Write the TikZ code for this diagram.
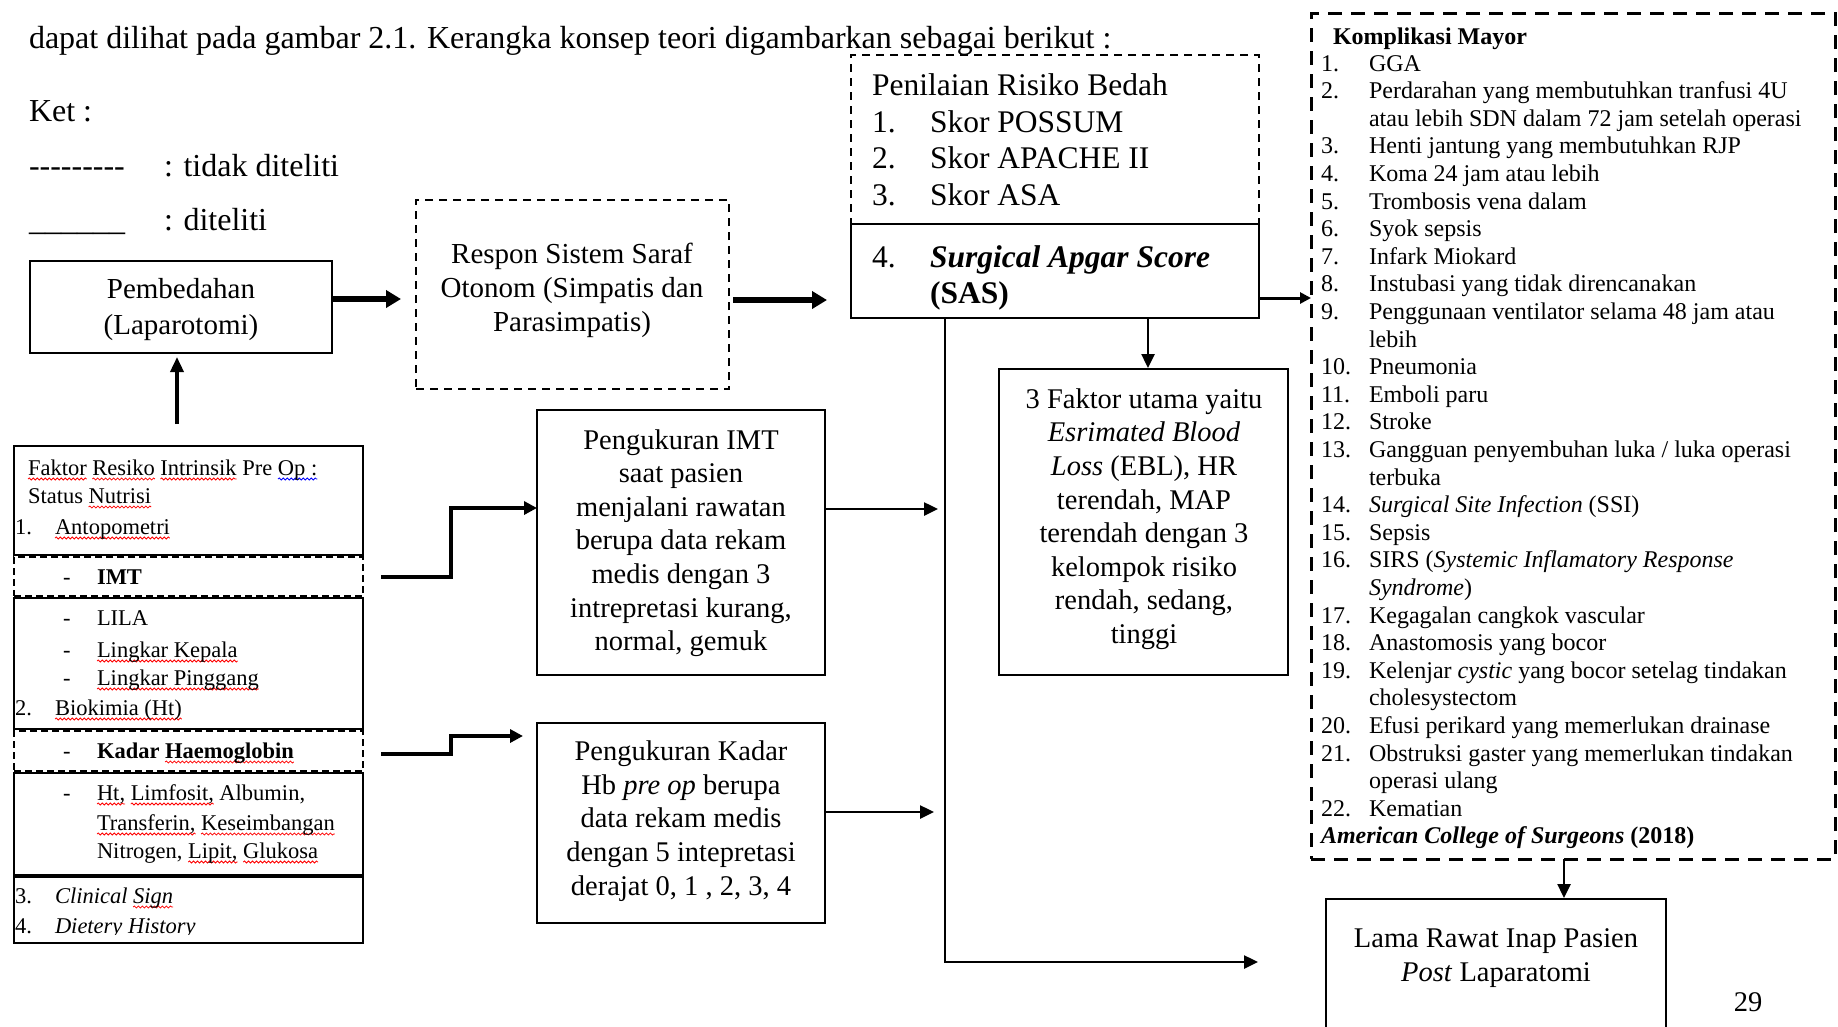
\documentclass[tikz,border=0pt]{standalone}
\usepackage{fontspec}
\setmainfont{Liberation Serif}
\usetikzlibrary{arrows.meta,decorations.pathmorphing}
\newlength\sqlen
\newcommand\sq[2][red]{\settowidth\sqlen{#2}\tikz[overlay,baseline=0pt,x=1pt,y=1pt]\draw[#1,line width=0.8pt,decorate,decoration={snake,amplitude=1pt,segment length=4pt}] (0,-4) -- (\sqlen,-4);#2}
\newcommand\hy{-\kern0pt}
\newcommand\fhead{\fontsize{32}{38}\selectfont}
\newcommand\fpemb{\fontsize{29}{36}\selectfont}
\newcommand\fresp{\fontsize{29}{34}\selectfont}
\newcommand\fmid{\fontsize{28.5}{33.6}\selectfont}
\newcommand\fpen{\fontsize{31.5}{36.5}\selectfont}
\newcommand\fkom{\fontsize{24}{27.6}\selectfont}
\newcommand\fleft{\fontsize{22.5}{30}\selectfont}
\begin{document}
\begin{tikzpicture}[x=1pt,y=-1pt,line join=miter,
  box/.style={draw, line width=2pt, inner sep=0pt, outer sep=0pt, anchor=north west},
  dbox/.style={box, dash pattern=on 8pt off 6pt},
  kbox/.style={box, line width=3pt, dash pattern=on 14pt off 9pt},
  rowdash/.style={box, dash pattern=on 7pt off 4pt},
  txt/.style={inner sep=0pt, outer sep=0pt, anchor=base west},
  ctxt/.style={inner sep=0pt, outer sep=0pt, align=center},
  thickarr/.style={line width=6pt, -{Triangle[length=15pt,width=17pt]}},
  uparr/.style={line width=3.5pt, -{Triangle[length=15pt,width=13pt]}},
  stepconn/.style={line width=4pt, -{Triangle[length=13pt,width=13pt]}},
  thinarr/.style={line width=2.5pt, -{Triangle[length=14pt,width=13pt]}},
  medarr/.style={line width=3pt, -{Triangle[length=11pt,width=11pt]}}]
\useasboundingbox (0,0) rectangle (1838,1026);
\clip (0,0) rectangle (1838,1026);

% header and legend
\node[txt, font=\fhead] (head) at (29,48) {dapat dilihat pada gambar 2.1. Kerangka konsep teori digambarkan sebagai berikut :};
\node[txt, font=\fhead] (ket) at (29,121) {Ket :};
\node[txt, font=\fhead] (legd) at (29,176) {\hy\hy\hy\hy\hy\hy\hy\hy\hy};
\node[txt, font=\fhead] (legdt) at (164,176) {: tidak diteliti};
\node[txt, font=\fhead] (legs) at (29,230) {\_\_\_\_\_\_};
\node[txt, font=\fhead] (legst) at (164,230) {: diteliti};

% boxes
\node[box, minimum width=302pt, minimum height=92pt] (pemb) at (30,261) {};
\node[dbox, minimum width=313pt, minimum height=189pt] (respon) at (416,200) {};
\node[dbox, minimum width=408pt, minimum height=169pt] (penilaian) at (851,55) {};
\node[box, minimum width=408pt, minimum height=94pt] (sas) at (851,224) {};
\node[box, minimum width=288pt, minimum height=265pt] (imtbox) at (537,410) {};
\node[box, minimum width=288pt, minimum height=200pt] (hbbox) at (537,723) {};
\node[box, minimum width=289pt, minimum height=306pt] (faktor) at (999,369) {};
\node[kbox, minimum width=524pt, minimum height=846pt] (kompl) at (1311,13) {};
\node[box, minimum width=340pt, minimum height=160pt] (lama) at (1326,899) {};

% left box rows
\node[box, minimum width=349pt, minimum height=109pt] (lb1) at (14,446) {};
\node[rowdash, minimum width=349pt, minimum height=39pt] (imtrow) at (14,557) {};
\node[box, minimum width=349pt, minimum height=131pt] (lb3) at (14,598) {};
\node[rowdash, minimum width=349pt, minimum height=40pt] (hbrow) at (14,731) {};
\node[box, minimum width=349pt, minimum height=102pt] (lb5) at (14,773) {};
\node[box, minimum width=349pt, minimum height=66pt] (lb6) at (14,877) {};

% box texts
\node[ctxt, font=\fpemb] (pembt) at (181,310) {Pembedahan\\(Laparotomi)};
\node[ctxt, font=\fresp] (respt) at (572,290) {Respon Sistem Saraf\\Otonom (Simpatis dan\\Parasimpatis)};
\node[ctxt, font=\fmid] (imtt) at (681,543) {Pengukuran IMT\\saat pasien\\menjalani rawatan\\berupa data rekam\\medis dengan 3\\intrepretasi kurang,\\normal, gemuk};
\node[ctxt, font=\fmid] (hbt) at (681,821) {Pengukuran Kadar\\Hb \textit{pre op} berupa\\data rekam medis\\dengan 5 intepretasi\\derajat 0, 1 , 2, 3, 4};
\node[ctxt, font=\fmid] (faktt) at (1144,519) {3 Faktor utama yaitu\\\textit{Esrimated Blood}\\\textit{Loss} (EBL), HR\\terendah, MAP\\terendah dengan 3\\kelompok risiko\\rendah, sedang,\\tinggi};
\node[ctxt, font=\fmid] (lamat) at (1496,958) {Lama Rawat Inap Pasien\\\textit{Post} Laparatomi};
\node[ctxt, font=\fmid] (page) at (1748,1002) {29};

% penilaian
\node[txt, font=\fpen] (pen0) at (872,95) {Penilaian Risiko Bedah};
\node[txt, font=\fpen] (pen1n) at (872,132) {1.};
\node[txt, font=\fpen] (pen1) at (930,132) {Skor POSSUM};
\node[txt, font=\fpen] (pen2n) at (872,168) {2.};
\node[txt, font=\fpen] (pen2) at (930,168) {Skor APACHE II};
\node[txt, font=\fpen] (pen3n) at (872,205) {3.};
\node[txt, font=\fpen] (pen3) at (930,205) {Skor ASA};
\node[txt, font=\fpen] (pen4n) at (872,267) {4.};
\node[txt, font=\fpen] (pen4) at (930,267) {\textbf{\textit{Surgical Apgar Score}}};
\node[txt, font=\fpen] (pen5) at (930,303) {\textbf{(SAS)}};

% left box text
\node[txt, font=\fleft] (l1) at (28,475) {\sq{Faktor} \sq{Resiko} \sq{Intrinsik} Pre \sq[blue]{Op :}};
\node[txt, font=\fleft] (l2) at (28,503) {Status \sq{Nutrisi}};
\node[txt, font=\fleft] (l3n) at (15,534) {1.};
\node[txt, font=\fleft] (l3) at (55,534) {\sq{Antopometri}};
\node[txt, font=\fleft] (l4n) at (63,584) {-};
\node[txt, font=\fleft] (l4) at (97,584) {\textbf{IMT}};
\node[txt, font=\fleft] (l5n) at (63,625) {-};
\node[txt, font=\fleft] (l5) at (97,625) {LILA};
\node[txt, font=\fleft] (l6n) at (63,657) {-};
\node[txt, font=\fleft] (l6) at (97,657) {\sq{Lingkar Kepala}};
\node[txt, font=\fleft] (l7n) at (63,685) {-};
\node[txt, font=\fleft] (l7) at (97,685) {\sq{Lingkar Pinggang}};
\node[txt, font=\fleft] (l8n) at (15,715) {2.};
\node[txt, font=\fleft] (l8) at (55,715) {\sq{Biokimia (Ht)}};
\node[txt, font=\fleft] (l9n) at (63,758) {-};
\node[txt, font=\fleft] (l9) at (97,758) {\textbf{Kadar \sq{Haemoglobin}}};
\node[txt, font=\fleft] (l10n) at (63,800) {-};
\node[txt, font=\fleft] (l10) at (97,800) {\sq{Ht,} \sq{Limfosit,} Albumin,};
\node[txt, font=\fleft] (l11) at (97,830) {\sq{Transferin,} \sq{Keseimbangan}};
\node[txt, font=\fleft] (l12) at (97,858) {Nitrogen, \sq{Lipit,} \sq{Glukosa}};
\node[txt, font=\fleft] (l13n) at (15,903) {3.};
\node[txt, font=\fleft] (l13) at (55,903) {\textit{Clinical \sq{Sign}}};
\begin{scope}
\clip (14,877) rectangle (363,934.5);
\node[txt, font=\fleft] (l14n) at (15,933) {4.};
\node[txt, font=\fleft] (l14) at (55,933) {\textit{Dietery History}};
\end{scope}

% komplikasi list
\newcommand\kl[3]{\node[txt, font=\fkom] (kn#1) at (1321,{71+27.6*#1}) {#2};
  \node[txt, font=\fkom] (kt#1) at (1369,{71+27.6*#1}) {#3};}
\newcommand\kc[2]{\node[txt, font=\fkom] (kt#1) at (1369,{71+27.6*#1}) {#2};}
\node[txt, font=\fkom] (ktitle) at (1333,44) {\textbf{Komplikasi Mayor}};
\kl{0}{1.}{GGA}
\kl{1}{2.}{Perdarahan yang membutuhkan tranfusi 4U}
\kc{2}{atau lebih SDN dalam 72 jam setelah operasi}
\kl{3}{3.}{Henti jantung yang membutuhkan RJP}
\kl{4}{4.}{Koma 24 jam atau lebih}
\kl{5}{5.}{Trombosis vena dalam}
\kl{6}{6.}{Syok sepsis}
\kl{7}{7.}{Infark Miokard}
\kl{8}{8.}{Instubasi yang tidak direncanakan}
\kl{9}{9.}{Penggunaan ventilator selama 48 jam atau}
\kc{10}{lebih}
\kl{11}{10.}{Pneumonia}
\kl{12}{11.}{Emboli paru}
\kl{13}{12.}{Stroke}
\kl{14}{13.}{Gangguan penyembuhan luka / luka operasi}
\kc{15}{terbuka}
\kl{16}{14.}{\textit{Surgical Site Infection} (SSI)}
\kl{17}{15.}{Sepsis}
\kl{18}{16.}{SIRS (\textit{Systemic Inflamatory Response}}
\kc{19}{\textit{Syndrome})}
\kl{20}{17.}{Kegagalan cangkok vascular}
\kl{21}{18.}{Anastomosis yang bocor}
\kl{22}{19.}{Kelenjar \textit{cystic} yang bocor setelag tindakan}
\kc{23}{cholesystectom}
\kl{24}{20.}{Efusi perikard yang memerlukan drainase}
\kl{25}{21.}{Obstruksi gaster yang memerlukan tindakan}
\kc{26}{operasi ulang}
\kl{27}{22.}{Kematian}
\node[txt, font=\fkom] (kref) at (1321,{71+27.6*28}) {\textbf{\textit{American College of Surgeons} (2018)}};

% connectors
\coordinate (upstart) at (177,424);
\coordinate (vbot) at (945,962);
\draw[uparr, shorten >=4pt] (upstart) -- (upstart |- pemb.south);
\draw[thickarr, shorten >=15pt] ([yshift=8pt]pemb.east) -- ([yshift=8pt]pemb.east -| respon.west);
\draw[thickarr, shorten <=4pt, shorten >=24pt] ([yshift=-5.5pt]respon.east) -- ([yshift=-5.5pt]respon.east -| sas.west);
\draw[stepconn] ([xshift=18pt]imtrow.east) -- ++(70,0) |- ([yshift=34.5pt]imtbox.west);
\draw[stepconn] ([xshift=18pt,yshift=-3pt]hbrow.east) -- ++(70,0) |- ([xshift=-14pt,yshift=87pt]hbbox.west);
\draw[thinarr, shorten >=7pt] ([yshift=33.5pt]imtbox.east) -- ([yshift=33.5pt]imtbox.east -| vbot);
\draw[thinarr, shorten >=11pt] ([yshift=11pt]hbbox.east) -- ([yshift=11pt]hbbox.east -| vbot);
\draw[thinarr, shorten >=68pt] (sas.south -| vbot) -- (vbot) -- (vbot -| lama.west);
\draw[thinarr, shorten >=1pt] ([xshift=4.5pt]faktor.north |- sas.south) -- ([xshift=4.5pt]faktor.north);
\draw[medarr] ([yshift=-27pt]sas.east) -- ([yshift=-27pt]sas.east -| kompl.west);
\draw[thinarr, shorten >=1pt] ([xshift=68pt]lama.north |- kompl.south) -- ([xshift=68pt]lama.north);
\end{tikzpicture}
\end{document}
